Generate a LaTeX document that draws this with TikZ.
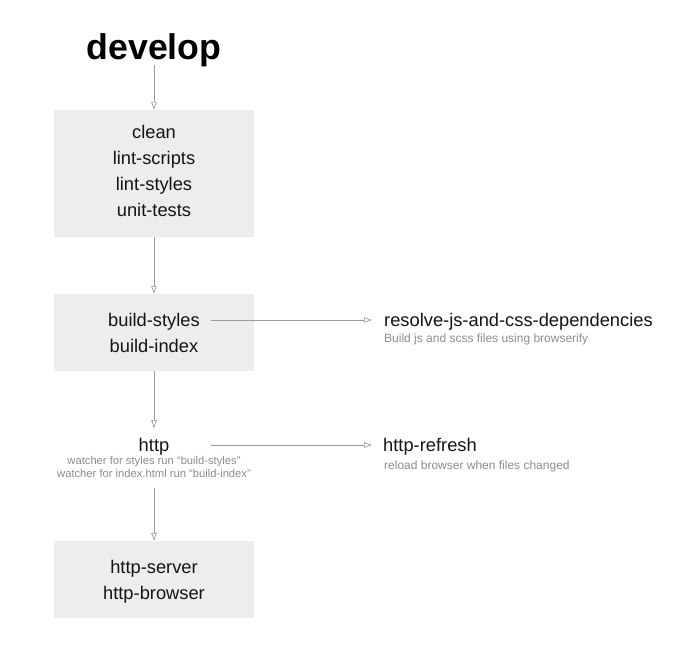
\documentclass[tikz,border=0pt]{standalone}
\usepackage{fontspec}
\setmainfont{Liberation Sans}
\usetikzlibrary{arrows.meta}
\definecolor{boxfill}{HTML}{EDEDED}
\definecolor{linegray}{HTML}{9A9A9A}
\definecolor{subgray}{HTML}{8C8C8C}
\begin{document}
\begin{tikzpicture}[x=1pt,y=1pt,
  box/.style={fill=boxfill,draw=none,minimum width=200pt,inner sep=0pt},
  item/.style={anchor=base,inner sep=0pt,font=\fontsize{18.3}{20}\selectfont,text=black!92},
  sub/.style={anchor=base,inner sep=0pt,font=\fontsize{11.2}{12}\selectfont,text=subgray},
  subr/.style={sub,anchor=base west,font=\fontsize{12}{13}\selectfont},
  conn/.style={draw=linegray,line width=0.7pt,-{Triangle[open,length=8pt,width=5.5pt]}}]
\useasboundingbox (0,0) rectangle (700,-650);
% title
\node[anchor=base,inner sep=0pt,font=\fontsize{35.7}{40}\selectfont\bfseries] (develop) at (154,-60) {develop};
% boxes
\node[box,minimum height=127pt] (box1) at (154,-173.5) {};
\node[box,minimum height=77pt] (box2) at (154,-332.5) {};
\node[box,minimum height=77pt] (box3) at (154,-579.5) {};
% box1 items
\node[item] (clean) at (154,-138) {clean};
\node[item] (lintscripts) at (154,-164) {lint-scripts};
\node[item] (lintstyles) at (154,-190) {lint-styles};
\node[item] (unittests) at (154,-216) {unit-tests};
% box2 items
\node[item] (buildstyles) at (154,-326) {build-styles};
\node[item] (buildindex) at (154,-352) {build-index};
% http
\node[item] (http) at (154,-451) {http};
\node[sub] (w1) at (154,-464) {watcher for styles run “build-styles”};
\node[sub] (w2) at (154,-477) {watcher for index.html run “build-index”};
% box3 items
\node[item] (httpserver) at (154,-573) {http-server};
\node[item] (httpbrowser) at (154,-599) {http-browser};
% right side
\node[item,anchor=base west] (resolve) at (384,-326) {resolve-js-and-css-dependencies};
\node[subr] (resolvesub) at (384,-342) {Build js and scss files using browserify};
\node[item,anchor=base west] (refresh) at (383,-451) {http-refresh};
\node[subr] (refreshsub) at (384,-469) {reload browser when files changed};
% connector coordinates
\coordinate (devbot) at (154,-65);
\coordinate (httptop) at (154,-428);
\coordinate (httpbot) at (154,-488);
\coordinate (bsout) at (211,-320);
\coordinate (resin) at (372,-320);
\coordinate (httpout) at (211,-445);
\coordinate (refin) at (372,-445);
% connectors
\draw[conn] (devbot) -- (box1.north);
\draw[conn] (box1.south) -- (box2.north);
\draw[conn] (box2.south) -- (httptop);
\draw[conn] (httpbot) -- (box3.north);
\draw[conn] (bsout) -- (resin);
\draw[conn] (httpout) -- (refin);
\end{tikzpicture}
\end{document}
